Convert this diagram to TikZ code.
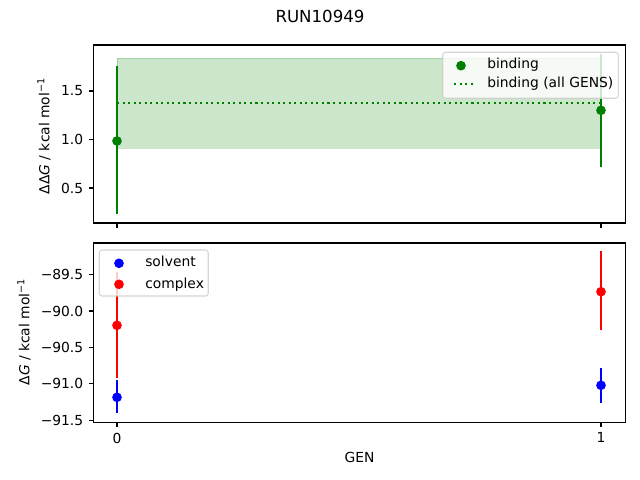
\documentclass[tikz,border=0pt]{standalone}
\usepackage{fontspec}
\setmainfont{DejaVu Sans}
\definecolor{mplgreen}{HTML}{008000}
\definecolor{mplblue}{HTML}{0000FF}
\definecolor{mplred}{HTML}{FF0000}
\begin{document}
\begin{tikzpicture}[x=0.01in,y=-0.01in,
    frame/.style={line width=0.8pt},
    errbar/.style={line width=1.5pt},
    lbl/.style={font=\fontsize{10}{12}\selectfont,inner sep=0pt},
    legendbox/.style={draw=black!20,fill=white,fill opacity=0.8,draw opacity=0.8,rounded corners=2pt,line width=0.8pt}]
    \useasboundingbox (0,0) rectangle (640,480);
    \node[font=\fontsize{12}{14}\selectfont,inner sep=0pt,anchor=base] (title) at (320,22.3) {RUN10949};

    % top axes: binding
    \fill[mplgreen,fill opacity=0.2,draw=mplgreen,draw opacity=0.2] (117,58.3) rectangle (601,148.3);
    \draw[mplgreen,line width=1.5pt,dash pattern=on 1.5pt off 2.5pt] (117,102.7) -- (601,102.7);
    \draw[errbar,mplgreen] (117,66) -- (117,214.3);
    \draw[errbar,mplgreen] (601,53.6) -- (601,166.7);
    \fill[mplgreen] (117,141) circle (3.5pt);
    \fill[mplgreen] (601,110.3) circle (3.5pt);
    \draw[frame] (93.5,45) rectangle (625.5,223);
    \foreach \y/\t [count=\i] in {91/1.5,139.3/1.0,188/0.5}
        \draw[frame] (93.5,\y) -- ++(-4.9,0) node[lbl,anchor=east,xshift=-3.5pt] (ttick\i) {\t};
    \foreach \x in {117,601}
        \draw[frame] (\x,223) -- ++(0,4.9);
    \node[lbl,rotate=90] (tlabel) at (44,136) {ΔΔ\textit{G} / kcal mol\textsuperscript{−1}};
    \draw[legendbox] (442.7,52.3) rectangle (618.3,98.3);
    \fill[mplgreen] (461,65.7) circle (3.5pt);
    \draw[mplgreen,line width=1.5pt,dash pattern=on 1.5pt off 2.5pt] (454,84.3) -- (474,84.3);
    \node[lbl,anchor=base west] (lbind) at (487,68.3) {binding};
    \node[lbl,anchor=base west] (lall) at (487,87.7) {binding (all GENS)};

    % bottom axes: solvent and complex
    \draw[errbar,mplblue] (117,380) -- (117,413.3);
    \draw[errbar,mplblue] (601,368.3) -- (601,402.7);
    \fill[mplblue] (117,397.3) circle (3.5pt);
    \fill[mplblue] (601,385.3) circle (3.5pt);
    \draw[errbar,mplred] (117,272.3) -- (117,378.3);
    \draw[errbar,mplred] (601,251) -- (601,329.7);
    \fill[mplred] (117,325.3) circle (3.5pt);
    \fill[mplred] (601,291.7) circle (3.5pt);
    \draw[frame] (93.5,243) rectangle (625.5,422.5);
    \foreach \y/\t [count=\i] in {274.4/89.5,311/90.0,347.4/90.5,383.8/91.0,420.2/91.5}
        \draw[frame] (93.5,\y) -- ++(-4.9,0) node[lbl,anchor=east,xshift=-3.5pt] (btick\i) {−\t};
    \foreach \x/\t [count=\i] in {117/0,601/1}
        \draw[frame] (\x,422.5) -- ++(0,4.9) node[lbl,anchor=north,yshift=-3.5pt] (xtick\i) {\t};
    \node[lbl,rotate=90] (blabel) at (24,332) {Δ\textit{G} / kcal mol\textsuperscript{−1}};
    \node[lbl] (xlabel) at (359.5,457) {GEN};
    \draw[legendbox] (99.3,250) rectangle (208.3,296);
    \fill[mplblue] (119,263.3) circle (3.5pt);
    \fill[mplred] (119,284.3) circle (3.5pt);
    \node[lbl,anchor=base west] (lsolv) at (145,267) {solvent};
    \node[lbl,anchor=base west] (lcomp) at (145,288.3) {complex};
\end{tikzpicture}
\end{document}
